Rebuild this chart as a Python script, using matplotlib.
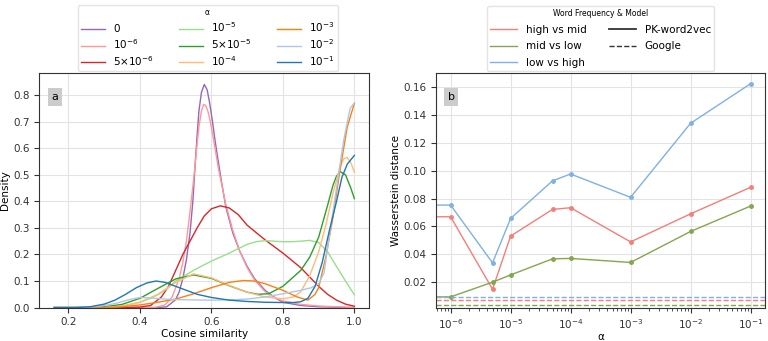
import matplotlib.pyplot as plt
import numpy as np

# ---- panel a: KDE of cosine similarity ----
alpha_labels = ["0", "$10^{-6}$", "$5{\\times}10^{-6}$",
                "$10^{-5}$", "$5{\\times}10^{-5}$", "$10^{-4}$",
                "$10^{-3}$", "$10^{-2}$", "$10^{-1}$"]
alpha_colors = ["#9467bd", "#ff9896", "#d62728",
                "#98df8a", "#2ca02c", "#ffbb78",
                "#ff7f0e", "#aec7e8", "#1f77b4"]

x_a0 = [0.16, 0.45, 0.475, 0.5, 0.51, 0.52, 0.53, 0.54, 0.548, 0.555, 0.56, 0.565, 0.572,
        0.58, 0.588, 0.595, 0.603, 0.61, 0.618, 0.625, 0.64,
        0.66, 0.68, 0.70, 0.72, 0.75, 0.78, 0.80, 0.85, 0.9, 1.0]
y_a0 = [0.0, 0.0, 0.003, 0.03, 0.06, 0.11, 0.18, 0.28, 0.40, 0.55, 0.65, 0.74, 0.81,
        0.84, 0.82, 0.77, 0.70, 0.63, 0.56, 0.50, 0.38,
        0.28, 0.21, 0.155, 0.11, 0.065, 0.035, 0.02, 0.008, 0.003, 0.0]

x_a1 = [0.16, 0.44, 0.47, 0.49, 0.51, 0.52, 0.53, 0.54, 0.55, 0.558, 0.565, 0.572, 0.578,
        0.584, 0.59, 0.597, 0.605, 0.62, 0.64,
        0.66, 0.68, 0.70, 0.72, 0.75, 0.78, 0.80, 0.85, 0.90, 0.95, 1.0]
y_a1 = [0.0, 0.0, 0.01, 0.04, 0.11, 0.17, 0.25, 0.36, 0.48, 0.59, 0.68, 0.74, 0.765,
        0.76, 0.74, 0.70, 0.64, 0.52, 0.39,
        0.29, 0.21, 0.15, 0.105, 0.06, 0.035, 0.025, 0.012, 0.006, 0.003, 0.0]

x_a2 = [0.16, 0.35, 0.40, 0.43, 0.46, 0.48, 0.50, 0.52, 0.54, 0.56, 0.58, 0.60, 0.625,
        0.65, 0.675, 0.70, 0.75, 0.80, 0.85, 0.875, 0.90, 0.925, 0.95, 0.975, 1.0]
y_a2 = [0.0, 0.0, 0.002, 0.008, 0.04, 0.08, 0.14, 0.20, 0.25, 0.30, 0.345, 0.372, 0.383,
        0.375, 0.35, 0.31, 0.255, 0.205, 0.15, 0.115, 0.08, 0.05, 0.028, 0.013, 0.005]

x_a3 = [0.16, 0.28, 0.32, 0.36, 0.40, 0.43, 0.45, 0.475, 0.50, 0.525, 0.55, 0.575, 0.60,
        0.625, 0.65, 0.675, 0.70, 0.725, 0.75, 0.775, 0.80, 0.825, 0.85, 0.875, 0.90,
        0.925, 0.95, 0.975, 1.0]
y_a3 = [0.0, 0.0, 0.003, 0.008, 0.02, 0.035, 0.048, 0.07, 0.10, 0.12, 0.14, 0.158, 0.175,
        0.19, 0.205, 0.222, 0.238, 0.248, 0.252, 0.25, 0.248, 0.248, 0.25, 0.253, 0.245,
        0.21, 0.155, 0.10, 0.048]

x_a4 = [0.16, 0.25, 0.30, 0.35, 0.40, 0.45, 0.50, 0.55, 0.60, 0.65, 0.70, 0.73, 0.76,
        0.80, 0.85, 0.875, 0.90, 0.925, 0.94, 0.95, 0.96, 0.975, 0.99, 1.0]
y_a4 = [0.0, 0.0, 0.003, 0.012, 0.035, 0.072, 0.108, 0.123, 0.11, 0.082, 0.058, 0.05, 0.052,
        0.08, 0.14, 0.19, 0.265, 0.385, 0.46, 0.495, 0.512, 0.50, 0.45, 0.41]

x_a5 = [0.16, 0.30, 0.35, 0.40, 0.45, 0.50, 0.55, 0.60, 0.65, 0.70, 0.75, 0.80, 0.83,
        0.85, 0.875, 0.90, 0.92, 0.94, 0.96, 0.97, 0.98, 0.99, 1.0]
y_a5 = [0.0, 0.0, 0.006, 0.02, 0.05, 0.095, 0.127, 0.112, 0.083, 0.058, 0.04, 0.033, 0.04,
        0.06, 0.12, 0.21, 0.31, 0.43, 0.53, 0.56, 0.565, 0.545, 0.51]

x_a6 = [0.16, 0.30, 0.35, 0.40, 0.45, 0.50, 0.55, 0.60, 0.65, 0.69, 0.72, 0.75, 0.80,
        0.84, 0.87, 0.89, 0.90, 0.92, 0.94, 0.96, 0.98, 1.0]
y_a6 = [0.0, 0.0, 0.003, 0.01, 0.02, 0.032, 0.052, 0.075, 0.095, 0.102, 0.10, 0.09, 0.065,
        0.04, 0.028, 0.05, 0.075, 0.19, 0.34, 0.52, 0.68, 0.77]

x_a7 = [0.16, 0.22, 0.28, 0.33, 0.37, 0.40, 0.43, 0.47, 0.50, 0.55, 0.60, 0.65, 0.70,
        0.75, 0.80, 0.85, 0.88, 0.90, 0.915, 0.93, 0.95, 0.97, 0.988, 1.0]
y_a7 = [0.0, 0.0, 0.004, 0.015, 0.03, 0.038, 0.036, 0.032, 0.03, 0.029, 0.028, 0.029, 0.032,
        0.04, 0.052, 0.065, 0.075, 0.09, 0.13, 0.27, 0.45, 0.63, 0.75, 0.77]

x_a8 = [0.16, 0.22, 0.26, 0.30, 0.33, 0.36, 0.39, 0.42, 0.445, 0.47, 0.50, 0.53, 0.56,
        0.60, 0.65, 0.70, 0.75, 0.80, 0.83, 0.85, 0.87, 0.89, 0.91, 0.93, 0.95, 0.965,
        0.98, 1.0]
y_a8 = [0.0, 0.0, 0.003, 0.013, 0.028, 0.05, 0.075, 0.093, 0.1, 0.095, 0.08, 0.065, 0.05,
        0.038, 0.028, 0.023, 0.02, 0.019, 0.019, 0.022, 0.035, 0.08, 0.17, 0.29, 0.40, 0.49,
        0.54, 0.573]

kde_x = [x_a0, x_a1, x_a2, x_a3, x_a4, x_a5, x_a6, x_a7, x_a8]
kde_y = [y_a0, y_a1, y_a2, y_a3, y_a4, y_a5, y_a6, y_a7, y_a8]

# ---- panel b: Wasserstein distance vs alpha ----
alphas = [0, 1e-6, 5e-6, 1e-5, 5e-5, 1e-4, 1e-3, 1e-2, 1e-1]
w_high_mid = [0.0669, 0.0669, 0.0147, 0.0530, 0.0722, 0.0734, 0.0488, 0.0690, 0.0881]
w_mid_low = [0.0092, 0.0092, 0.0198, 0.0250, 0.0366, 0.0369, 0.0340, 0.0563, 0.0746]
w_low_high = [0.0753, 0.0753, 0.0337, 0.0657, 0.0928, 0.0977, 0.0809, 0.1342, 0.1627]
google_high_mid = 0.0068
google_mid_low = 0.0036
google_low_high = 0.0088

pair_labels = ["high vs mid", "mid vs low", "low vs high"]
pair_colors = ["#f47f78", "#83a64e", "#7fb1e3"]

plt.rcParams['font.size'] = 7.5
plt.rcParams['axes.edgecolor'] = '#333333'
plt.rcParams['xtick.color'] = '#333333'
plt.rcParams['ytick.color'] = '#333333'
plt.rcParams['legend.edgecolor'] = '#dddddd'

fig = plt.figure(figsize=(7.68, 3.41), dpi=100)
ax1 = fig.add_axes([0.051, 0.098, 0.430, 0.687])
ax2 = fig.add_axes([0.568, 0.098, 0.428, 0.687])

for xs, ys, lab, col in zip(kde_x, kde_y, alpha_labels, alpha_colors):
    ax1.plot(xs, ys, color=col, lw=1.0, label=lab)
ax1.set_xlim(0.118, 1.042)
ax1.set_ylim(0, 0.882)
ax1.set_xticks([0.2, 0.4, 0.6, 0.8, 1.0])
ax1.set_yticks(np.arange(0, 0.81, 0.1))
ax1.set_xlabel("Cosine similarity", labelpad=1)
ax1.set_ylabel("Density", labelpad=2)
ax1.grid(True, color='#e3e3e3', lw=0.8)
ax1.set_axisbelow(True)
ax1.text(0.048, 0.90, "a", transform=ax1.transAxes, ha='center', va='center', fontsize=8,
         bbox=dict(facecolor='#cccccc', edgecolor='none', boxstyle='square,pad=0.35'))
ax1.legend(loc='lower center', bbox_to_anchor=(0.51, 1.0), ncol=3, title="α",
           title_fontsize=5.5, fontsize=7.5, handlelength=2.3, frameon=True,
           borderaxespad=0.2, borderpad=0.3, labelspacing=0.3, columnspacing=2.4)

# alpha = 0 cannot be drawn on a log axis: place it just left of the view
x_plot = [1e-7] + alphas[1:]
ax2.plot(x_plot, w_high_mid, color=pair_colors[0], lw=1.0, marker='o', ms=2.5)
ax2.plot(x_plot, w_mid_low, color=pair_colors[1], lw=1.0, marker='o', ms=2.5)
ax2.plot(x_plot, w_low_high, color=pair_colors[2], lw=1.0, marker='o', ms=2.5)
ax2.axhline(google_low_high, color=pair_colors[2], lw=1.0, ls='--')
ax2.axhline(google_high_mid, color=pair_colors[0], lw=1.0, ls='--')
ax2.axhline(google_mid_low, color=pair_colors[1], lw=1.0, ls='--')
ax2.set_xscale('log')
ax2.set_xlim(10 ** -6.24, 10 ** -0.76)
ax2.set_ylim(0.0015, 0.1702)
ax2.set_yticks(np.arange(0.02, 0.161, 0.02))
ax2.set_xlabel("α", labelpad=1)
ax2.set_ylabel("Wasserstein distance", labelpad=2)
ax2.grid(True, which='major', color='#e3e3e3', lw=0.8)
ax2.set_axisbelow(True)
ax2.text(0.045, 0.90, "b", transform=ax2.transAxes, ha='center', va='center', fontsize=8,
         bbox=dict(facecolor='#cccccc', edgecolor='none', boxstyle='square,pad=0.35'))

handles = [plt.Line2D([], [], color=c, lw=1.0) for c in pair_colors]
handles += [plt.Line2D([], [], color='#333333', lw=1.3),
            plt.Line2D([], [], color='#333333', lw=1.0, ls='--')]
labels = pair_labels + ["PK-word2vec", "Google"]
ax2.legend(handles, labels, loc='lower center', bbox_to_anchor=(0.5, 1.0), ncol=2,
           title="Word Frequency & Model", title_fontsize=5.5, fontsize=7.5,
           handlelength=2.6, borderaxespad=0.2, borderpad=0.3, labelspacing=0.65,
           columnspacing=2.2)

fig.savefig("out.png", dpi=100)
